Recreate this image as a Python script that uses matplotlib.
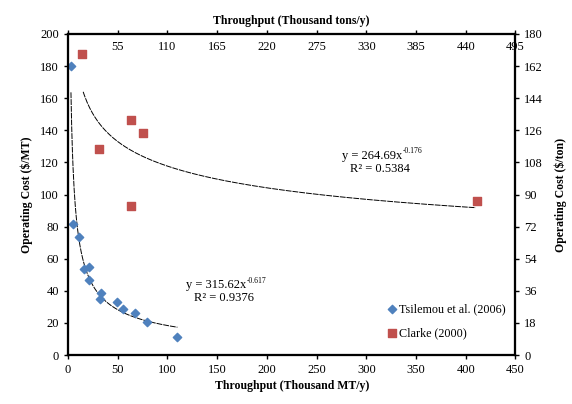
import matplotlib
matplotlib.use("Agg")
import matplotlib.pyplot as plt
import numpy as np

plt.rcParams['font.family'] = ['Liberation Serif', 'DejaVu Serif']

# Tsilemou et al. (2006): throughput (thousand MT/y), cost ($/MT)
tsil_x = [2.5, 5, 11, 16.5, 21.5, 21.5, 33, 32.5, 49, 55, 67, 79, 109.5]
tsil_y = [180, 81.7, 73.8, 53.6, 54.6, 46.8, 38.8, 34.7, 33.2, 29, 26.4, 20.4, 11.4]

# Clarke (2000)
clarke_x = [14.5, 31, 63.2, 75, 63.2, 411]
clarke_y = [187.7, 128.6, 146.3, 138.2, 93, 96]

# power-law fits reported on the chart
tsil_fit = (315.62, -0.617, 2.9, 110)
clarke_fit = (264.69, -0.176, 15.2, 410)

top_ticks = [0, 55, 110, 165, 220, 275, 330, 385, 440, 495]
right_ticks = [0, 18, 36, 54, 72, 90, 108, 126, 144, 162, 180]

fig = plt.figure(figsize=(5.72, 4.04), dpi=100)
ax = fig.add_axes([0.119, 0.121, 0.782, 0.795])

for a, b, x0, x1 in [tsil_fit, clarke_fit]:
    xs = np.linspace(x0, x1, 300)
    ax.plot(xs, a * xs ** b, color='black', lw=0.7, ls=(0, (6, 1)), zorder=2)

ax.scatter(tsil_x, tsil_y, marker='D', s=18, color='#4F81BD', zorder=3,
           label='Tsilemou et al. (2006)')
ax.scatter(clarke_x, clarke_y, marker='s', s=30, color='#C0504D', zorder=3,
           label='Clarke (2000)')


def fit_label(x, y, coef, expo, r2):
    t = ax.text(x, y, 'y = %sx' % coef, ha='center', va='center', fontsize=9)
    ax.annotate(expo, xy=(1, 0.55), xycoords=t, ha='left', va='bottom', fontsize=5.5)
    ax.text(x + 8, y - 8, 'R\u00b2 = %s' % r2, ha='center', va='center', fontsize=9)


fit_label(149, 43.5, '315.62', '-0.617', '0.9376')
fit_label(306, 124, '264.69', '-0.176', '0.5384')

ax.set_xlim(0, 450)
ax.set_ylim(0, 200)
ax.set_xticks(range(0, 451, 50))
ax.set_yticks(range(0, 201, 20))
ax.tick_params(labelsize=9, length=3, width=1)
ax.set_xlabel('Throughput (Thousand MT/y)', fontsize=8.5, fontweight='bold', labelpad=3)
ax.set_ylabel('Operating Cost ($/MT)', fontsize=8.5, fontweight='bold', labelpad=5)
for s in ax.spines.values():
    s.set_linewidth(1.5)

# secondary axes in short tons
axt = ax.twiny()
axt.set_xlim(0, 495)
axt.set_xticks(top_ticks)
axt.set_xticklabels([''] + [str(t) for t in top_ticks[1:]])
axt.tick_params(axis='x', labelsize=9, length=3, width=1, pad=-17)
axt.set_xlabel('Throughput (Thousand tons/y)', fontsize=8.5, fontweight='bold', labelpad=4)

axr = ax.twinx()
axr.set_ylim(0, 180)
axr.set_yticks(right_ticks)
axr.tick_params(axis='y', labelsize=9, length=3, width=1)
axr.set_ylabel('Operating Cost ($/ton)', fontsize=8.5, fontweight='bold', labelpad=8)
for a in (axt, axr):
    for s in a.spines.values():
        s.set_linewidth(1.5)

ax.legend(loc='center left', bbox_to_anchor=(0.7, 0.106), frameon=False,
          fontsize=8.7, handlelength=0.8, handletextpad=0.2, borderpad=0,
          labelspacing=1.0, scatterpoints=1)

fig.savefig('out.png', dpi=100)
